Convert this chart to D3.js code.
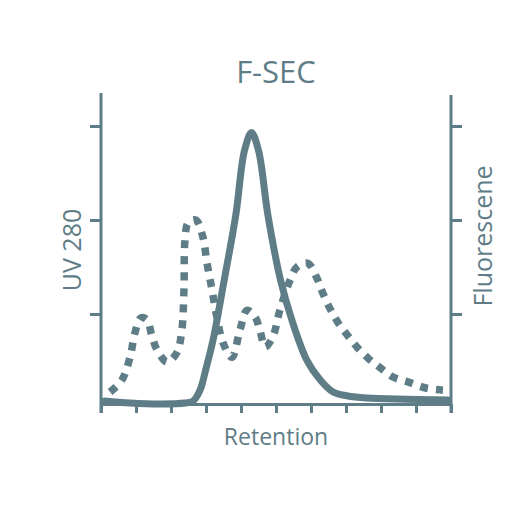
<!DOCTYPE html>
<html lang="en">
<head>
<meta charset="UTF-8">
<title>F-SEC</title>
<style>
  body { margin: 0; background: #fff; }
  .chart text { fill: #5f7d87; font-family: "Open Sans", sans-serif; }
  .chart .axis line, .chart .axis path { stroke: #5f7d87; stroke-width: 3; }
</style>
</head>
<body>
<svg class="chart" width="512" height="512"></svg>
<script src="https://cdn.jsdelivr.net/npm/d3@7"></script>
<script>
// retention (x, 0..10) and signal (y)
var uvX = [0.11, 0.83, 1.69, 2.4, 2.63, 2.83, 3.0, 3.2, 3.51, 3.85, 4.1, 4.3, 4.5, 4.77, 5.13, 5.45, 5.88, 6.26, 6.63, 7.02, 7.59, 9.91];
var uvY = [0.074, 0.053, 0.043, 0.053, 0.074, 0.19, 0.42, 0.72, 1.34, 2.05, 2.74, 2.93, 2.74, 2.05, 1.36, 0.94, 0.51, 0.30, 0.17, 0.13, 0.106, 0.085];

var flX = [0.26, 0.6, 0.83, 0.97, 1.14, 1.31, 1.46, 1.6, 1.89, 2.17, 2.31, 2.37, 2.4, 2.49, 2.71, 2.91, 3.03, 3.17, 3.31, 3.49, 3.74, 3.97, 4.17, 4.4, 4.54, 4.69, 4.91, 5.11, 5.4, 5.6, 5.91, 6.17, 6.34, 6.54, 6.77, 7.03, 7.31, 7.63, 7.97, 8.34, 8.83, 9.31, 9.77];
var flY = [0.17, 0.30, 0.54, 0.80, 0.96, 0.94, 0.76, 0.62, 0.49, 0.59, 0.83, 1.26, 1.79, 1.97, 2.0, 1.82, 1.54, 1.26, 0.97, 0.69, 0.54, 0.83, 1.04, 0.97, 0.83, 0.65, 0.76, 1.04, 1.36, 1.5, 1.54, 1.38, 1.22, 1.06, 0.91, 0.78, 0.65, 0.53, 0.43, 0.33, 0.27, 0.21, 0.19];

var xTicks = [0, 1, 2, 3, 4, 5, 6, 7, 8, 9, 10];
var yTicks = [1, 2, 3];

var color = "#5f7d87";

var x = d3.scaleLinear().domain([0, 10]).range([101, 451]);
var y = d3.scaleLinear().domain([0, 3.33]).range([408, 95]);

var svg = d3.select(".chart");

// bottom axis (sits a little above y=0)
svg.append("g")
    .attr("class", "axis")
    .attr("transform", "translate(0,404)")
    .call(d3.axisBottom(x).tickValues(xTicks).tickSize(9).tickSizeOuter(0).tickFormat(""));

// left axis, ticks only, line drawn by hand to run past the bottom axis
svg.append("g")
    .attr("class", "axis")
    .attr("transform", "translate(101,0)")
    .call(d3.axisLeft(y).tickValues(yTicks).tickSize(11).tickSizeOuter(0).tickFormat(""))
    .select(".domain").remove();
svg.append("line").attr("x1", 101).attr("x2", 101).attr("y1", 93).attr("y2", 413)
    .attr("stroke", color).attr("stroke-width", 3);

svg.append("g")
    .attr("class", "axis")
    .attr("transform", "translate(451,0)")
    .call(d3.axisRight(y).tickValues(yTicks).tickSize(11).tickSizeOuter(0).tickFormat(""))
    .select(".domain").remove();
svg.append("line").attr("x1", 451).attr("x2", 451).attr("y1", 95).attr("y2", 413)
    .attr("stroke", color).attr("stroke-width", 3);

var line = d3.line()
    .x(function(d) { return x(d[0]); })
    .y(function(d) { return y(d[1]); })
    .curve(d3.curveCatmullRom.alpha(0.5));

svg.append("path")
    .datum(d3.zip(flX, flY))
    .attr("d", line)
    .attr("fill", "none")
    .attr("stroke", color)
    .attr("stroke-width", 7.5)
    .attr("stroke-dasharray", "8,8");

svg.append("path")
    .datum(d3.zip(uvX, uvY))
    .attr("d", line)
    .attr("fill", "none")
    .attr("stroke", color)
    .attr("stroke-width", 7)
    .attr("stroke-linecap", "round");

svg.append("text")
    .attr("x", 276).attr("y", 83)
    .attr("text-anchor", "middle")
    .style("font-size", "31px")
    .text("F-SEC");

svg.append("text")
    .attr("x", 276).attr("y", 445)
    .attr("text-anchor", "middle")
    .style("font-size", "23px")
    .text("Retention");

svg.append("text")
    .attr("transform", "translate(81,250) rotate(-90)")
    .attr("text-anchor", "middle")
    .style("font-size", "25px")
    .text("UV 280");

svg.append("text")
    .attr("transform", "translate(492,236) rotate(-90)")
    .attr("text-anchor", "middle")
    .style("font-size", "25px")
    .text("Fluorescene");
</script>
</body>
</html>
